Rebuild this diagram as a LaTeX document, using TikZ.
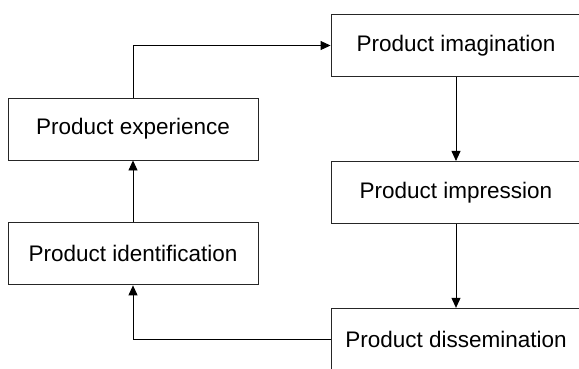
\documentclass[tikz,border=0pt]{standalone}
\usepackage{fontspec}
\setmainfont{Liberation Sans}
\usetikzlibrary{arrows.meta, positioning}

\begin{document}
\begin{tikzpicture}[x=1pt, y=1pt,
		stage/.style={rectangle, draw=black!85, line width=0.9pt, minimum width=250pt, minimum height=62pt, inner sep=0pt, font=\fontsize{22.5}{27}\selectfont},
		wide/.style={minimum width=256pt},
		flow/.style={-{Triangle[length=10pt, width=9pt]}, line width=0.9pt}
		]
		\useasboundingbox (0,0) rectangle (579,-368);
		\clip (0,0) rectangle (579,-368);
		\node [stage, wide] (imagination) at (459,-45.5) {\hspace*{-6pt}Product imagination};
		\node [stage, wide] (impression) [below=84pt of imagination] {\hspace*{-6pt}Product impression};
		\node [stage, wide] (dissemination) [below=84pt of impression] {\hspace*{-6pt}Product dissemination};
		\node [stage] (experience) at (133,-129) {Product experience};
		\node [stage] (identification) [below=62pt of experience] {Product identification};
		
		\draw [flow] (experience.north) |- (imagination.west);
		\draw [flow] ([xshift=-3pt]imagination.south) -- ([xshift=-3pt]impression.north);
		\draw [flow] ([xshift=-3pt]impression.south) -- ([xshift=-3pt]dissemination.north);
		\draw [flow] (identification) -- (experience);
		\draw [flow] (dissemination.west) -| (identification.south);
	\end{tikzpicture}
\end{document}
